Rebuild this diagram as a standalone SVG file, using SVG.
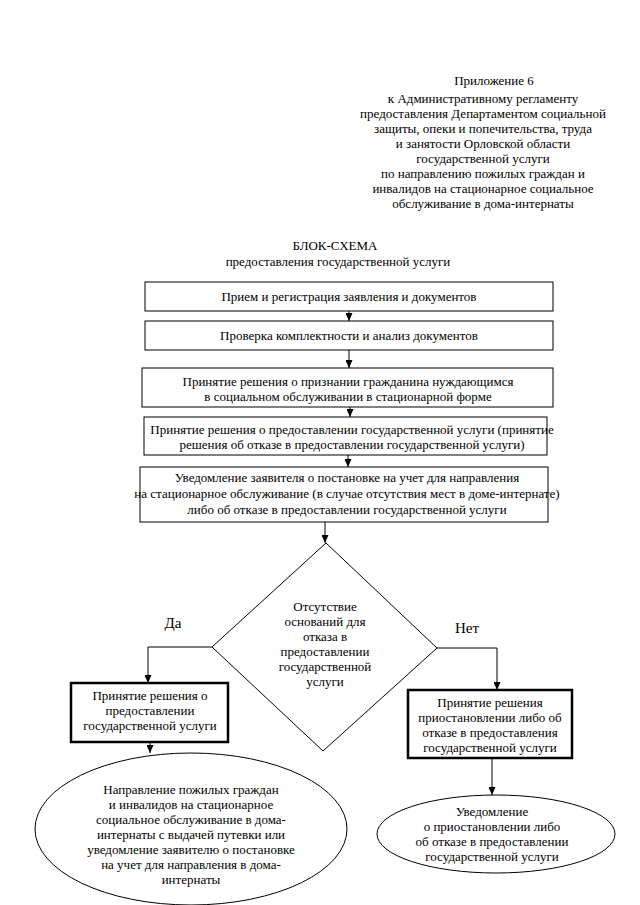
<svg xmlns="http://www.w3.org/2000/svg" width="640" height="905" viewBox="0 0 640 905">
<defs>
<style>
text{font-family:"Liberation Serif","Times New Roman",serif;font-size:13px;fill:#000;text-anchor:middle}
.lbl{font-size:15px}
.box{fill:#fff;stroke:#000;stroke-width:1}
.tbox{fill:#fff;stroke:#000;stroke-width:2.5}
.edge{fill:none;stroke:#000;stroke-width:1}
</style>
<marker id="ah" markerUnits="userSpaceOnUse" markerWidth="8" markerHeight="7" refX="8" refY="3.5" orient="auto">
<path d="M0,0 L8,3.5 L0,7 z" fill="#000"/>
</marker>
</defs>
<rect width="640" height="905" fill="#fff"/>
<g id="header">
<text x="494" y="85">Приложение 6</text>
<text x="483" y="103">к Административному регламенту</text>
<text x="483" y="118">предоставления Департаментом социальной</text>
<text x="483" y="133">защиты, опеки и попечительства, труда</text>
<text x="483" y="148">и занятости Орловской области</text>
<text x="483" y="163">государственной услуги</text>
<text x="483" y="178">по направлению пожилых граждан и</text>
<text x="483" y="193">инвалидов на стационарное социальное</text>
<text x="483" y="208">обслуживание в дома-интернаты</text>
</g>
<g id="title">
<text x="335" y="250">БЛОК-СХЕМА</text>
<text x="338" y="266">предоставления государственной услуги</text>
</g>
<g id="connectors">
<line class="edge" x1="349" y1="311" x2="349" y2="321" marker-end="url(#ah)"/>
<line class="edge" x1="349" y1="350" x2="349" y2="368" marker-end="url(#ah)"/>
<line class="edge" x1="350" y1="407" x2="350" y2="417" marker-end="url(#ah)"/>
<line class="edge" x1="348" y1="455" x2="348" y2="467" marker-end="url(#ah)"/>
<line class="edge" x1="325" y1="522" x2="325" y2="543" marker-end="url(#ah)"/>
<polyline class="edge" points="212,647 148,647 148,683" marker-end="url(#ah)"/>
<polyline class="edge" points="437,648 497,648 497,690" marker-end="url(#ah)"/>
<line class="edge" x1="150" y1="742" x2="150" y2="753" marker-end="url(#ah)"/>
<line class="edge" x1="492" y1="758" x2="492" y2="795" marker-end="url(#ah)"/>
<text class="lbl" x="173" y="628">Да</text>
<text class="lbl" x="467" y="633">Нет</text>
</g>
<g id="n1">
<rect class="box" x="145" y="282" width="408" height="29"/>
<text x="349" y="301">Прием и регистрация заявления и документов</text>
</g>
<g id="n2">
<rect class="box" x="145" y="321" width="408" height="29"/>
<text x="349" y="340">Проверка комплектности и анализ документов</text>
</g>
<g id="n3">
<rect class="box" x="142" y="368" width="411" height="39"/>
<text x="348" y="386">Принятие решения о признании гражданина нуждающимся</text>
<text x="348" y="401">в социальном обслуживании в стационарной форме</text>
</g>
<g id="n4">
<rect class="box" x="144" y="417" width="403" height="38"/>
<text x="352" y="434">Принятие решения о предоставлении государственной услуги (принятие</text>
<text x="352" y="449">решения об отказе в предоставлении государственной услуги)</text>
</g>
<g id="n5">
<rect class="box" x="140" y="467" width="408" height="55"/>
<text x="347" y="482">Уведомление заявителя о постановке на учет для направления</text>
<text x="347" y="498">на стационарное обслуживание (в случае отсутствия мест в доме-интернате)</text>
<text x="347" y="514">либо об отказе в предоставлении государственной услуги</text>
</g>
<g id="decision">
<polygon class="box" points="326,543 437,648 323,751 212,647"/>
<text x="325" y="611">Отсутствие</text>
<text x="325" y="626">оснований для</text>
<text x="325" y="641">отказа в</text>
<text x="325" y="656">предоставлении</text>
<text x="325" y="671">государственной</text>
<text x="325" y="686">услуги</text>
</g>
<g id="yes-box">
<rect class="tbox" x="71" y="683" width="157" height="59"/>
<text x="150" y="700">Принятие решения о</text>
<text x="150" y="715">предоставлении</text>
<text x="150" y="730">государственной услуги</text>
</g>
<g id="no-box">
<rect class="tbox" x="408" y="690" width="164" height="68"/>
<text x="490" y="707">Принятие решения</text>
<text x="490" y="722">приостановлении либо об</text>
<text x="490" y="737">отказе в предоставления</text>
<text x="490" y="752">государственной услуги</text>
</g>
<g id="yes-end">
<ellipse class="box" cx="191" cy="829" rx="156" ry="76"/>
<text x="191" y="794">Направление пожилых граждан</text>
<text x="191" y="809">и инвалидов на стационарное</text>
<text x="191" y="824">социальное обслуживание в дома-</text>
<text x="191" y="839">интернаты с выдачей путевки или</text>
<text x="191" y="854">уведомление заявителю о постановке</text>
<text x="191" y="869">на учет для направления в дома-</text>
<text x="191" y="884">интернаты</text>
</g>
<g id="no-end">
<ellipse class="box" cx="496" cy="834" rx="119" ry="39"/>
<text x="492" y="816">Уведомление</text>
<text x="492" y="831">о приостановлении либо</text>
<text x="492" y="846">об отказе в предоставлении</text>
<text x="492" y="861">государственной услуги</text>
</g>
</svg>
